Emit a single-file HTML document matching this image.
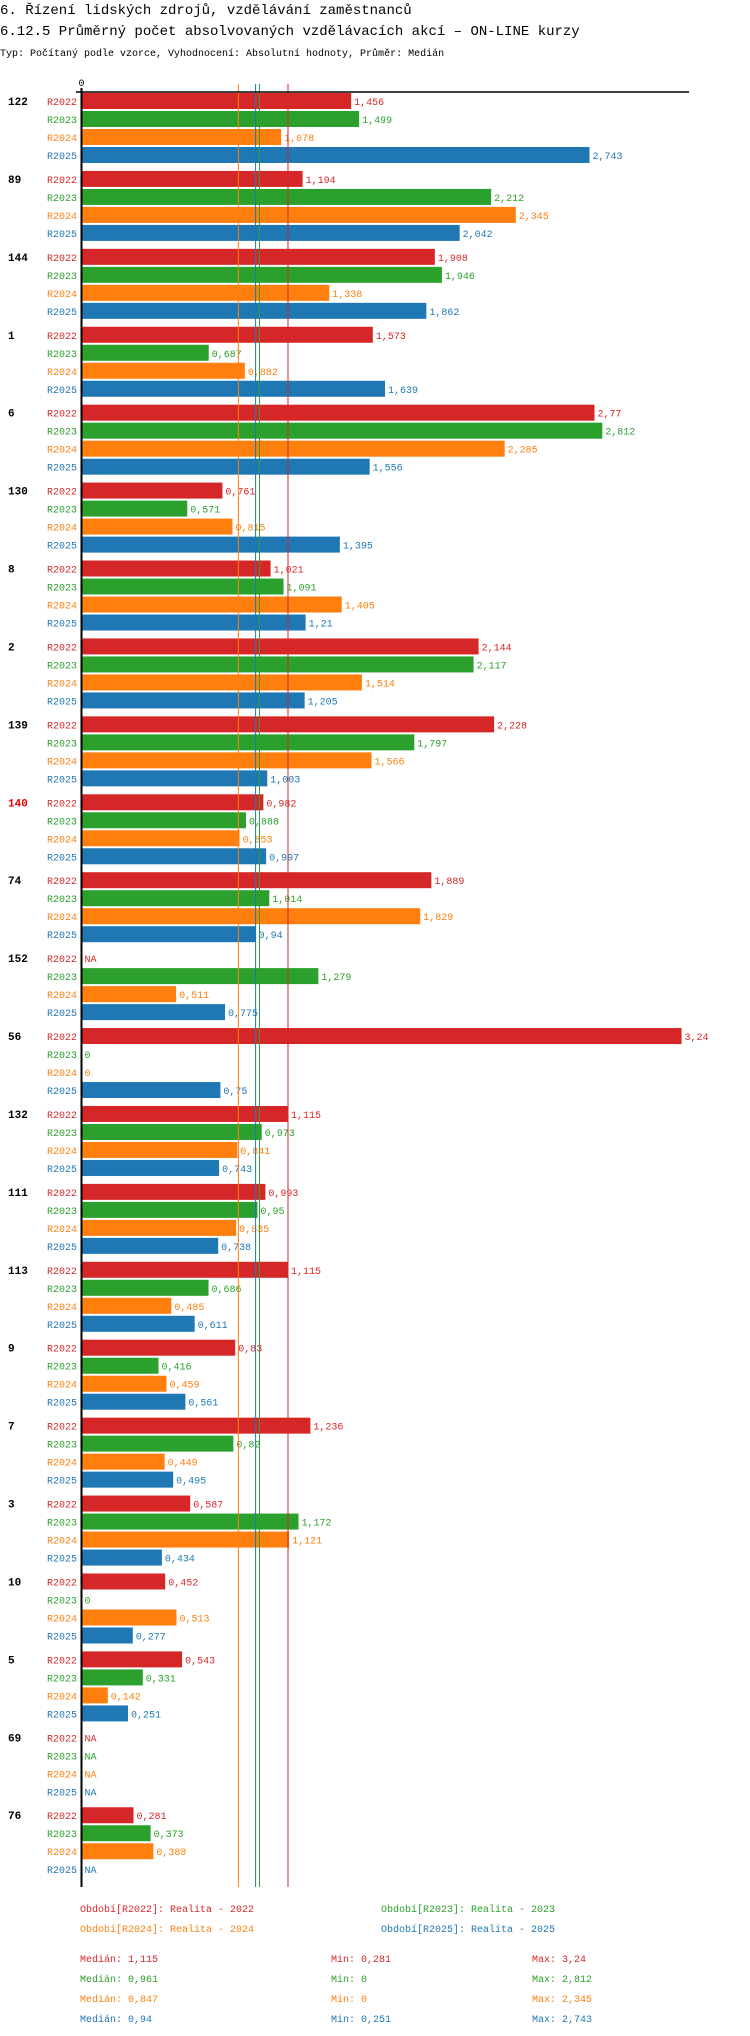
<!DOCTYPE html>
<html><head><meta charset="utf-8"><style>
body{margin:0;background:#fff;width:750px;height:2036px;overflow:hidden}
svg{display:block}
text{font-family:"Liberation Mono","DejaVu Sans Mono",monospace}
</style></head><body>
<svg id="chart" width="750" height="2036" xmlns="http://www.w3.org/2000/svg">
<text x="0" y="14" font-size="14">6. Řízení lidských zdrojů, vzdělávání zaměstnanců</text>
<text x="0" y="35" font-size="14">6.12.5 Průměrný počet absolvovaných vzdělávacích akcí – ON-LINE kurzy</text>
<text x="0" y="56" font-size="10">Typ: Počítaný podle vzorce, Vyhodnocení: Absolutní hodnoty, Průměr: Medián</text>
<g id="plot"></g>
</svg>
<script>
const groups=["122","89","144","1","6","130","8","2","139","140","74","152","56","132","111","113","9","7","3","10","5","69","76"];
const seriesNames=["R2022","R2023","R2024","R2025"];
const r2022=[1.456,1.194,1.908,1.573,2.77,0.761,1.021,2.144,2.228,0.982,1.889,null,3.24,1.115,0.993,1.115,0.83,1.236,0.587,0.452,0.543,null,0.281];
const r2023=[1.499,2.212,1.946,0.687,2.812,0.571,1.091,2.117,1.797,0.888,1.014,1.279,0,0.973,0.95,0.686,0.416,0.82,1.172,0,0.331,null,0.373];
const r2024=[1.078,2.345,1.338,0.882,2.285,0.815,1.405,1.514,1.566,0.853,1.829,0.511,0,0.841,0.835,0.485,0.459,0.449,1.121,0.513,0.142,null,0.388];
const r2025=[2.743,2.042,1.862,1.639,1.556,1.395,1.21,1.205,1.003,0.997,0.94,0.775,0.75,0.743,0.738,0.611,0.561,0.495,0.434,0.277,0.251,null,null];
const medians=[1.115,0.961,0.847,0.94];
const mins=[0.281,0,0,0.251];
const maxs=[3.24,2.812,2.345,2.743];
const medianLabels=["1,115","0,961","0,847","0,94"];
const minLabels=["0,281","0","0","0,251"];
const maxLabels=["3,24","2,812","2,345","2,743"];
const legendYears=["2022","2023","2024","2025"];
const colors=["#d62728","#2ca02c","#ff7f0e","#1f77b4"];
const series=[r2022,r2023,r2024,r2025];
const X0=81.5,K=185.2,TOP=93,GP=77.92,RP=18,BH=16;
const x=v=>X0+v*K;
const y=(g,s)=>TOP+g*GP+s*RP;
const ns="http://www.w3.org/2000/svg";
const plot=document.getElementById('plot');
function el(tag,attrs,txt){const e=document.createElementNS(ns,tag);for(const k in attrs)e.setAttribute(k,attrs[k]);if(txt!==undefined)e.textContent=txt;plot.appendChild(e);return e;}
const fmt=v=>String(v).replace('.',',');
const yEnd=1887;
groups.forEach((g,gi)=>{
  const gl=el('text',{x:8,y:y(gi,0)+12,'font-size':11,'font-weight':'bold',fill:g==="140"?"#e00":"#000"},g);
  
  
  series.forEach((arr,si)=>{
    const v=arr[gi],yy=y(gi,si);
    const sl=el('text',{x:77,y:yy+12,'font-size':10,fill:colors[si],'text-anchor':'end'},seriesNames[si]);
    
    
    if(v===null){
      const na=el('text',{x:X0+3,y:yy+12,'font-size':10,fill:colors[si]},'NA');
      
      
      return;
    }
    const r=el('rect',{x:X0,y:yy,width:Math.max(0,x(v)-X0),height:BH,fill:colors[si]});
    
    
    const t=el('text',{x:x(v)+3,y:yy+12,'font-size':10,fill:colors[si]},fmt(v));
    
    
  });
});
medians.forEach((m,i)=>{
  const l=el('line',{x1:x(m),x2:x(m),y1:84,y2:yEnd,stroke:colors[i],'stroke-width':1});
  
  
});
const ax=el('line',{x1:76,x2:689,y1:92,y2:92,stroke:'#000','stroke-width':1.5});


const ay=el('line',{x1:X0,x2:X0,y1:88,y2:yEnd,stroke:'#000','stroke-width':2});


const z=el('text',{x:X0,y:86,'font-size':10,'text-anchor':'middle'},'0');


const lx=[80,381,80,381],ly=[1912,1912,1932,1932];
legendYears.forEach((yr,i)=>{
  const t=el('text',{x:lx[i],y:ly[i],'font-size':10,fill:colors[i]},'Období['+seriesNames[i]+']: Realita - '+yr);
  
  
});
medians.forEach((m,i)=>{
  const yy=1962+i*20;
  const a=el('text',{x:80,y:yy,'font-size':10,fill:colors[i]},'Medián: '+medianLabels[i]);
  
  
  const b=el('text',{x:331,y:yy,'font-size':10,fill:colors[i]},'Min: '+minLabels[i]);
  
  
  const c=el('text',{x:532,y:yy,'font-size':10,fill:colors[i]},'Max: '+maxLabels[i]);
  
  
});
</script>
</body></html>
